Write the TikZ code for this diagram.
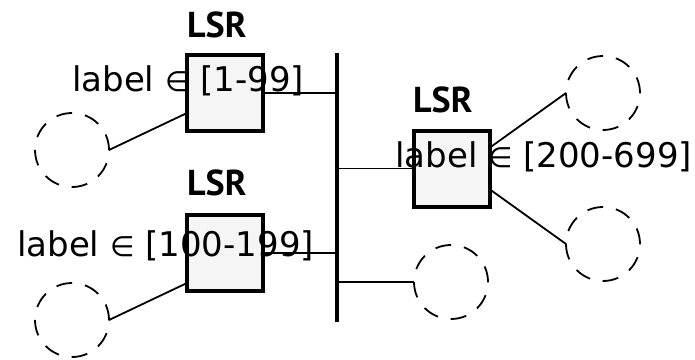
\documentclass[tikz,border=0pt]{standalone}
\usepackage{fontspec}
\setmainfont{DejaVu Sans}
\newfontfamily\namefont{PT Sans}
\newcommand\elemof{{\fontsize{28}{32}\selectfont ∈}}
\usepackage{tikz}
\usetikzlibrary{calc}

\begin{document}
\begin{tikzpicture}[x=1pt, y=-1pt, font=\fontsize{34}{40}\selectfont,
  lsrbox/.style={rectangle, fill=gray!8, minimum size=76pt, inner sep=0pt, outer sep=0pt},
  lsredge/.style={line width=4pt},
  lan/.style={circle, draw, line width=1.8pt, dash pattern=on 16pt off 13pt, minimum size=74pt, inner sep=0pt, outer sep=0pt},
  link/.style={line width=1.8pt},
  tag/.style={anchor=base west, inner sep=0pt},
  lsrname/.style={tag, font=\namefont\fontsize{36}{40}\selectfont\bfseries}]
 \useasboundingbox (0,0) rectangle (695,359);

 % backbone
 \coordinate (bustop) at (337,53);
 \coordinate (busbot) at (337,322);
 \draw[line width=4pt] (bustop) -- (busbot);

 % routers
 \node (lsrA) [lsrbox] at (225,93) {};
 \node (lsrB) [lsrbox] at (225,253) {};
 \node (lsrC) [lsrbox] at (452,168.5) {};

 % attached networks
 \node (netA) [lan] at (72,150) {};
 \node (netB) [lan] at (72,320) {};
 \node (netC) [lan] at (603,93) {};
 \node (netD) [lan] at (603,244) {};
 \node (netE) [lan] at (451,282) {};

 \draw[link] (lsrA.east) -- (lsrA.east -| bustop);
 \draw[link] (lsrB.east) -- (lsrB.east -| bustop);
 \draw[link] (lsrC.west -| bustop) -- (lsrC.west);
 \draw[link] (netE.west -| bustop) -- (netE.west);
 \draw[link] ([yshift=-20pt]lsrA.west) -- (netA.east);
 \draw[link] ([yshift=-30pt]lsrB.west) -- (netB.east);
 \draw[link] ([yshift=21pt]lsrC.east) -- (netC.west);
 \draw[link] ([yshift=-21pt]lsrC.east) -- (netD.west);

 % names and label ranges
 \node (nameA) [lsrname] at (187,37) {LSR};
 \node (nameB) [lsrname] at (187,195) {LSR};
 \node (nameC) [lsrname] at (413,112) {LSR};
 \node (rangeA) [tag] at (72,91) {label \elemof{} [1-99]};
 \node (rangeB) [tag] at (17,256) {label \elemof{} [100-199]};
 \node (rangeC) [tag] at (395,167) {label \elemof{} [200-699]};

 % router frames on top of the text
 \foreach \r in {lsrA,lsrB,lsrC}
   \draw[lsredge] (\r.north west) rectangle (\r.south east);
\end{tikzpicture}
\end{document}
